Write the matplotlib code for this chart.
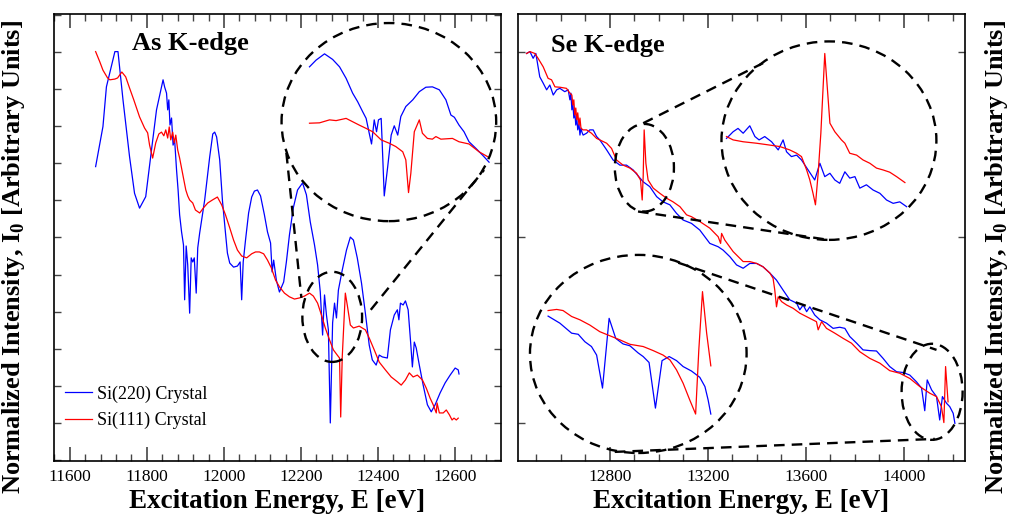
import numpy as np
import matplotlib
matplotlib.use('Agg')
from matplotlib import pyplot as plt
from matplotlib.patches import Ellipse
from matplotlib.ticker import MultipleLocator

plt.rcParams['font.family'] = ['Liberation Serif', 'DejaVu Serif']
plt.rcParams['mathtext.fontset'] = 'custom'
plt.rcParams['mathtext.rm'] = 'Liberation Serif'
plt.rcParams['mathtext.bf'] = 'Liberation Serif:bold'

# ---- As K-edge, Si(220) crystal
as_e_220 = [11667, 11686, 11695, 11717, 11725, 11738, 11755, 11768, 11781, 11797,
            11812, 11825, 11842, 11846, 11851, 11854, 11857, 11860, 11864, 11868,
            11872, 11877, 11881, 11885, 11890, 11895, 11898, 11902, 11906, 11911,
            11915, 11919, 11923, 11928, 11932, 11937, 11950, 11963, 11971, 11976,
            11981, 11989, 11996, 12004, 12009, 12015, 12025, 12035, 12042, 12046,
            12050, 12056, 12064, 12072, 12079, 12087, 12095, 12105, 12113, 12121,
            12125, 12129, 12136, 12144, 12155, 12162, 12170, 12180, 12191, 12204,
            12214, 12224, 12235, 12243, 12250, 12256, 12261, 12266, 12271, 12276,
            12282, 12287, 12292, 12297, 12307, 12318, 12328, 12336, 12346, 12357,
            12367, 12377, 12385, 12395, 12403, 12411, 12424, 12432, 12442, 12450,
            12454, 12458, 12465, 12471, 12478, 12484, 12489, 12494, 12499, 12507,
            12517, 12528, 12538, 12548, 12561, 12574, 12587, 12600, 12608, 12610]
as_i_220 = [69.1, 79.9, 90.6, 100.1, 100.1, 87.1, 71.8, 61.9, 57.9, 61.0,
            73.6, 84.4, 92.5, 90.6, 88.9, 84.4, 87.1, 80.3, 82.2, 74.9,
            76.3, 68.2, 62.8, 56.1, 51.5, 48.0, 33.2, 47.7, 42.6, 29.6,
            44.5, 43.4, 44.5, 35.0, 47.2, 51.2, 60.1, 71.7, 77.9, 78.4,
            77.1, 70.9, 60.1, 51.2, 45.8, 43.1, 42.0, 42.3, 43.4, 33.2,
            43.4, 49.3, 56.6, 60.9, 62.5, 62.8, 61.2, 56.1, 51.5, 48.5,
            40.7, 43.9, 38.5, 35.3, 38.0, 43.4, 50.7, 58.0, 62.8, 64.7,
            61.5, 54.2, 48.0, 42.6, 35.3, 23.7, 34.5, 29.1, 25.1, 0.0,
            27.0, 32.3, 28.3, 35.8, 41.2, 46.6, 50.1, 49.3, 44.5, 37.7,
            29.6, 21.0, 17.0, 15.6, 18.3, 17.8, 17.5, 25.1, 29.1, 30.5,
            27.8, 32.3, 31.8, 32.9, 30.5, 22.4, 15.1, 21.8, 20.2, 15.6,
            10.2, 4.9, 3.0, 4.9, 8.1, 10.8, 12.9, 14.8, 14.3, 13.2]

# ---- As K-edge, Si(111) crystal
as_e_111 = [11667, 11678, 11686, 11698, 11704, 11717, 11724, 11735, 11745, 11755,
            11766, 11781, 11794, 11802, 11807, 11815, 11823, 11831, 11838, 11844,
            11849, 11854, 11858, 11862, 11867, 11871, 11875, 11880, 11885, 11890,
            11895, 11901, 11906, 11911, 11919, 11926, 11937, 11947, 11958, 11970,
            11983, 11994, 12004, 12015, 12025, 12035, 12046, 12059, 12072, 12082,
            12092, 12103, 12113, 12123, 12134, 12144, 12157, 12170, 12183, 12196,
            12209, 12222, 12232, 12243, 12253, 12263, 12274, 12284, 12294, 12300,
            12303, 12307, 12315, 12320, 12328, 12336, 12351, 12367, 12377, 12390,
            12403, 12419, 12434, 12450, 12460, 12471, 12481, 12491, 12502, 12515,
            12525, 12535, 12543, 12551, 12553, 12559, 12569, 12577, 12585, 12592,
            12597, 12603, 12608]
as_i_111 = [100.1, 97.3, 95.1, 93.0, 92.5, 92.7, 93.0, 94.6, 93.3, 90.3,
            87.1, 82.5, 79.5, 78.2, 74.9, 71.4, 75.5, 77.9, 78.4, 77.4,
            79.0, 76.8, 79.8, 76.3, 78.4, 75.5, 77.6, 73.6, 71.4, 68.7,
            66.0, 62.8, 61.2, 60.1, 59.3, 57.4, 56.6, 58.0, 59.3, 60.1,
            60.9, 58.8, 56.1, 52.6, 49.3, 46.6, 45.0, 44.5, 45.6, 46.1,
            46.1, 45.6, 43.9, 41.8, 38.5, 36.7, 35.0, 34.0, 33.4, 33.7,
            34.2, 35.0, 34.2, 32.3, 29.1, 25.6, 22.4, 19.7, 18.3, 17.5,
            1.6, 17.8, 35.0, 31.8, 26.4, 25.6, 26.1, 25.1, 22.9, 19.7,
            16.4, 14.3, 12.4, 11.1, 10.2, 11.6, 13.5, 12.4, 12.9, 11.6,
            9.4, 6.7, 4.9, 2.7, 5.4, 2.7, 2.7, 3.5, 2.2, 0.8,
            1.3, 0.8, 1.3]

# ---- As zoomed view (drawn inside the big dashed circle)
as_zoom_e_220 = [12222, 12239, 12261, 12282, 12300, 12317, 12334, 12347, 12360, 12369,
                 12377, 12383, 12390, 12396, 12401, 12408, 12410, 12416, 12425, 12434,
                 12442, 12451, 12459, 12472, 12490, 12507, 12524, 12541, 12559, 12576,
                 12589, 12598, 12610, 12623, 12636, 12654, 12671, 12688]
as_zoom_i_220 = [96.0, 97.8, 99.5, 98.0, 96.0, 92.9, 88.9, 86.6, 83.9, 82.1,
                 78.1, 75.2, 81.7, 78.5, 81.7, 82.1, 77.2, 61.2, 69.1, 77.6,
                 80.1, 77.6, 82.6, 85.3, 87.1, 89.3, 90.5, 90.6, 89.8, 87.1,
                 83.0, 82.4, 80.3, 78.5, 75.8, 74.0, 72.2, 70.3]
as_zoom_e_111 = [12222, 12248, 12274, 12291, 12317, 12334, 12351, 12369, 12386, 12408,
                 12429, 12446, 12464, 12472, 12479, 12485, 12494, 12507, 12515, 12528,
                 12541, 12550, 12563, 12593, 12610, 12636, 12662, 12684]
as_zoom_i_111 = [80.8, 80.9, 81.7, 81.5, 82.1, 81.2, 80.3, 79.4, 78.5, 76.3,
                 75.4, 74.5, 73.1, 70.9, 62.1, 67.3, 78.5, 81.7, 78.1, 76.7,
                 76.5, 77.2, 76.5, 76.7, 75.8, 75.2, 73.1, 71.8]

# ---- Se K-edge, Si(220) crystal
se_e_220 = [12460, 12474, 12487, 12498, 12514, 12528, 12542, 12555, 12569, 12583,
            12596, 12616, 12630, 12637, 12641, 12645, 12649, 12653, 12657, 12661,
            12665, 12669, 12674, 12678, 12682, 12686, 12691, 12705, 12718, 12732,
            12746, 12759, 12787, 12813, 12841, 12868, 12895, 12936, 12963, 12991,
            13017, 13045, 13072, 13099, 13133, 13167, 13208, 13242, 13262, 13290,
            13317, 13344, 13371, 13399, 13425, 13453, 13480, 13507, 13534, 13562,
            13575, 13589, 13603, 13616, 13636, 13657, 13684, 13711, 13738, 13759,
            13779, 13807, 13833, 13861, 13888, 13915, 13942, 13970, 13997, 14024,
            14051, 14072, 14085, 14095, 14113, 14133, 14146, 14157, 14174, 14187,
            14201, 14208]
se_i_220 = [99.6, 100.1, 98.3, 99.6, 93.3, 91.6, 89.8, 91.1, 88.4, 89.8,
            90.2, 89.3, 89.8, 87.1, 88.9, 84.4, 86.3, 82.2, 83.8, 80.3,
            82.2, 79.0, 80.6, 77.6, 79.5, 78.4, 77.6, 78.1, 79.0, 79.0,
            77.2, 76.3, 73.6, 70.9, 69.5, 69.5, 68.2, 65.0, 63.7, 61.0,
            59.6, 58.8, 56.5, 54.7, 53.8, 52.0, 48.4, 47.5, 46.6, 44.8,
            42.6, 41.7, 43.0, 43.0, 42.1, 40.4, 38.5, 35.8, 33.2, 32.3,
            30.5, 31.8, 30.0, 31.3, 29.1, 27.8, 26.9, 25.5, 25.8, 25.5,
            23.3, 21.5, 19.7, 19.5, 19.4, 17.4, 15.2, 13.8, 13.6, 12.9,
            11.1, 9.4, 3.3, 11.6, 8.9, 7.1, 0.8, 7.1, 5.3, 4.4,
            2.6, -0.1]

# ---- Se K-edge, Si(111) crystal
se_e_111 = [12460, 12474, 12494, 12507, 12528, 12548, 12562, 12576, 12596, 12623,
            12637, 12645, 12649, 12653, 12657, 12661, 12665, 12669, 12674, 12678,
            12682, 12690, 12705, 12725, 12746, 12759, 12787, 12807, 12827, 12854,
            12882, 12909, 12925, 12932, 12936, 12940, 12947, 12956, 12977, 13004,
            13031, 13058, 13086, 13113, 13133, 13167, 13208, 13242, 13252, 13256,
            13269, 13303, 13344, 13371, 13399, 13425, 13453, 13466, 13473, 13480,
            13487, 13501, 13521, 13548, 13575, 13616, 13643, 13650, 13664, 13684,
            13718, 13752, 13786, 13820, 13861, 13902, 13942, 13983, 14024, 14065,
            14106, 14133, 14153, 14163, 14170, 14180]
se_i_111 = [99.6, 100.1, 99.6, 98.3, 96.0, 92.9, 92.5, 90.6, 90.5, 90.2,
            88.9, 88.4, 85.7, 87.1, 83.0, 84.9, 81.7, 83.6, 80.3, 82.2,
            79.5, 79.0, 79.0, 78.1, 76.7, 76.3, 75.4, 74.0, 70.9, 69.5,
            68.7, 67.3, 65.5, 60.1, 66.4, 79.0, 70.0, 65.5, 63.3, 61.9,
            60.6, 59.6, 58.3, 56.1, 55.6, 54.3, 52.5, 50.2, 48.4, 51.1,
            49.3, 46.2, 43.5, 43.5, 43.0, 42.1, 40.4, 39.0, 35.8, 31.3,
            34.0, 32.7, 31.8, 30.9, 29.6, 28.2, 27.3, 25.1, 27.3, 25.5,
            24.2, 22.8, 21.5, 19.2, 17.4, 16.1, 14.1, 13.4, 12.0, 9.8,
            8.0, 7.1, 4.4, 0.1, 15.2, 5.7]

# ---- Se zoomed view near 12940 eV (upper circle)
se_hi_e_220 = [13276, 13303, 13323, 13344, 13371, 13392, 13409, 13432, 13460, 13487,
               13507, 13521, 13541, 13562, 13582, 13609, 13636, 13657, 13677, 13698,
               13718, 13738, 13759, 13779, 13800, 13820, 13847, 13874, 13902, 13929,
               13956, 13983, 14011]
se_hi_i_220 = [76.7, 78.5, 79.4, 78.1, 80.1, 77.2, 76.3, 77.2, 75.8, 73.6,
               76.3, 73.1, 71.8, 72.2, 70.9, 68.2, 65.5, 70.0, 66.4, 67.3,
               65.5, 64.6, 67.7, 66.0, 66.4, 63.3, 64.2, 62.8, 61.9, 60.1,
               59.2, 59.6, 58.3]
se_hi_e_111 = [13276, 13303, 13344, 13399, 13453, 13494, 13534, 13562, 13582, 13603,
               13616, 13629, 13639, 13650, 13661, 13677, 13691, 13698, 13718, 13745,
               13759, 13779, 13807, 13833, 13861, 13888, 13915, 13942, 13970, 14004]
se_hi_i_111 = [77.2, 76.3, 75.8, 75.4, 74.9, 74.5, 73.6, 72.7, 71.8, 68.2,
               65.5, 61.9, 58.8, 67.3, 78.1, 99.6, 87.1, 80.8, 78.5, 76.3,
               75.4, 72.7, 72.2, 70.9, 70.0, 68.7, 68.2, 67.6, 66.4, 64.8]

# ---- Se zoomed view near 14150 eV (lower circle)
se_lo_e_220 = [12548, 12596, 12644, 12671, 12698, 12725, 12746, 12770, 12797, 12824,
               12854, 12882, 12915, 12936, 12960, 12986, 13013, 13042, 13072, 13099,
               13133, 13167, 13188, 13201, 13212]
se_lo_i_220 = [28.8, 26.9, 24.2, 23.9, 21.9, 20.6, 18.3, 9.4, 28.2, 22.8,
               21.3, 20.8, 18.9, 17.9, 16.3, 4.0, 16.8, 17.9, 16.8, 15.2,
               14.0, 12.3, 9.8, 6.2, 2.4]
se_lo_e_111 = [12548, 12583, 12609, 12644, 12678, 12718, 12759, 12800, 12841, 12882,
               12936, 12977, 13017, 13045, 13072, 13099, 13126, 13150, 13163, 13178,
               13195, 13212]
se_lo_i_111 = [30.3, 30.6, 30.3, 28.7, 27.8, 26.4, 24.6, 23.5, 22.4, 21.2,
               20.6, 19.5, 18.3, 17.0, 14.3, 10.7, 6.2, 2.4, 19.7, 35.4,
               24.2, 15.4]

BLUE = '#0000ff'
RED = '#ff0000'
DASH = (0, (4.5, 3))


def dashed_ellipse(ax, center, w, h):
    ax.add_patch(Ellipse(center, w, h, fill=False, ec='k', lw=1.7,
                         ls=DASH, zorder=4))


def dashed_line(ax, p0, p1):
    ax.plot([p0[0], p1[0]], [p0[1], p1[1]], color='k', lw=1.7, ls=DASH, zorder=4)


def style_axes(ax, xlim, major, minor, ystep):
    ax.set_xlim(*xlim)
    ax.set_ylim(-10.25, 110.25)
    ax.xaxis.set_major_locator(MultipleLocator(major))
    ax.xaxis.set_minor_locator(MultipleLocator(minor))
    ax.yaxis.set_major_locator(MultipleLocator(ystep))
    ax.tick_params(axis='x', which='major', direction='in', length=10, width=1.2,
                   top=True, color='#444444', labelsize=12.5, pad=6)
    ax.tick_params(axis='x', which='minor', direction='in', length=5, width=1.0,
                   top=True, color='#444444')
    ax.tick_params(axis='y', which='major', direction='in', length=5, width=1.0,
                   right=True, labelleft=False, color='#444444')
    for s in ax.spines.values():
        s.set_linewidth(1.2)
    ax.set_xlabel('Excitation Energy, E [eV]', fontsize=19.5, fontweight='bold',
                  labelpad=3)


fig = plt.figure(figsize=(10.21, 5.19), dpi=100)
ax1 = fig.add_axes([0.0529, 0.1118, 0.4378, 0.8613])
ax2 = fig.add_axes([0.5073, 0.1118, 0.4378, 0.8613])

# As K-edge panel
ax1.plot(as_e_220, as_i_220, color=BLUE, lw=0.9, label='Si(220) Crystal')
ax1.plot(as_e_111, as_i_111, color=RED, lw=0.9, label='Si(111) Crystal')
ax1.plot(as_zoom_e_220, as_zoom_i_220, color=BLUE, lw=0.9)
ax1.plot(as_zoom_e_111, as_zoom_i_111, color=RED, lw=0.9)
dashed_ellipse(ax1, (12428, 81.1), 557, 53.4)
dashed_ellipse(ax1, (12281, 28.6), 155, 24.3)
dashed_line(ax1, (12162, 72.8), (12201, 33.7))
dashed_line(ax1, (12381, 30.5), (12675, 68.2))
style_axes(ax1, (11559, 12719), 200, 40, 10)
ax1.text(0.175, 0.935, 'As K-edge', transform=ax1.transAxes, fontsize=19,
         fontweight='bold', va='center', ha='left')
ax1.legend(loc='lower left', bbox_to_anchor=(-0.012, 0.035), frameon=False,
           fontsize=13, handlelength=1.5, handletextpad=0.3, labelspacing=0.5)

# Se K-edge panel
ax2.plot(se_e_220, se_i_220, color=BLUE, lw=0.9)
ax2.plot(se_e_111, se_i_111, color=RED, lw=0.9)
ax2.plot(se_hi_e_220, se_hi_i_220, color=BLUE, lw=0.9)
ax2.plot(se_hi_e_111, se_hi_i_111, color=RED, lw=0.9)
ax2.plot(se_lo_e_220, se_lo_i_220, color=BLUE, lw=0.9)
ax2.plot(se_lo_e_111, se_lo_i_111, color=RED, lw=0.9)
dashed_ellipse(ax2, (13694, 76.1), 877, 53.5)
dashed_ellipse(ax2, (12941, 68.8), 241, 23.6)
dashed_line(ax2, (12936, 80.8), (13425, 97.0))
dashed_line(ax2, (12915, 57.0), (13698, 49.3))
dashed_ellipse(ax2, (12916, 18.6), 884, 53.4)
dashed_ellipse(ax2, (14115, 8.4), 249, 25.9)
dashed_line(ax2, (13079, 43.2), (14133, 19.7))
dashed_line(ax2, (12820, -7.8), (14126, -4.3))
style_axes(ax2, (12425, 14249), 400, 100, 50)
ax2.text(0.075, 0.93, 'Se K-edge', transform=ax2.transAxes, fontsize=19,
         fontweight='bold', va='center', ha='left')

ylab = 'Normalized Intensity, I$_\\mathbf{0}$ [Arbitrary Units]'
fig.text(0.013, 0.505, ylab, rotation=90, fontsize=19, fontweight='bold',
         ha='center', va='center')
fig.text(0.976, 0.505, ylab, rotation=90, fontsize=19, fontweight='bold',
         ha='center', va='center')

fig.savefig('out.png', dpi=100)
